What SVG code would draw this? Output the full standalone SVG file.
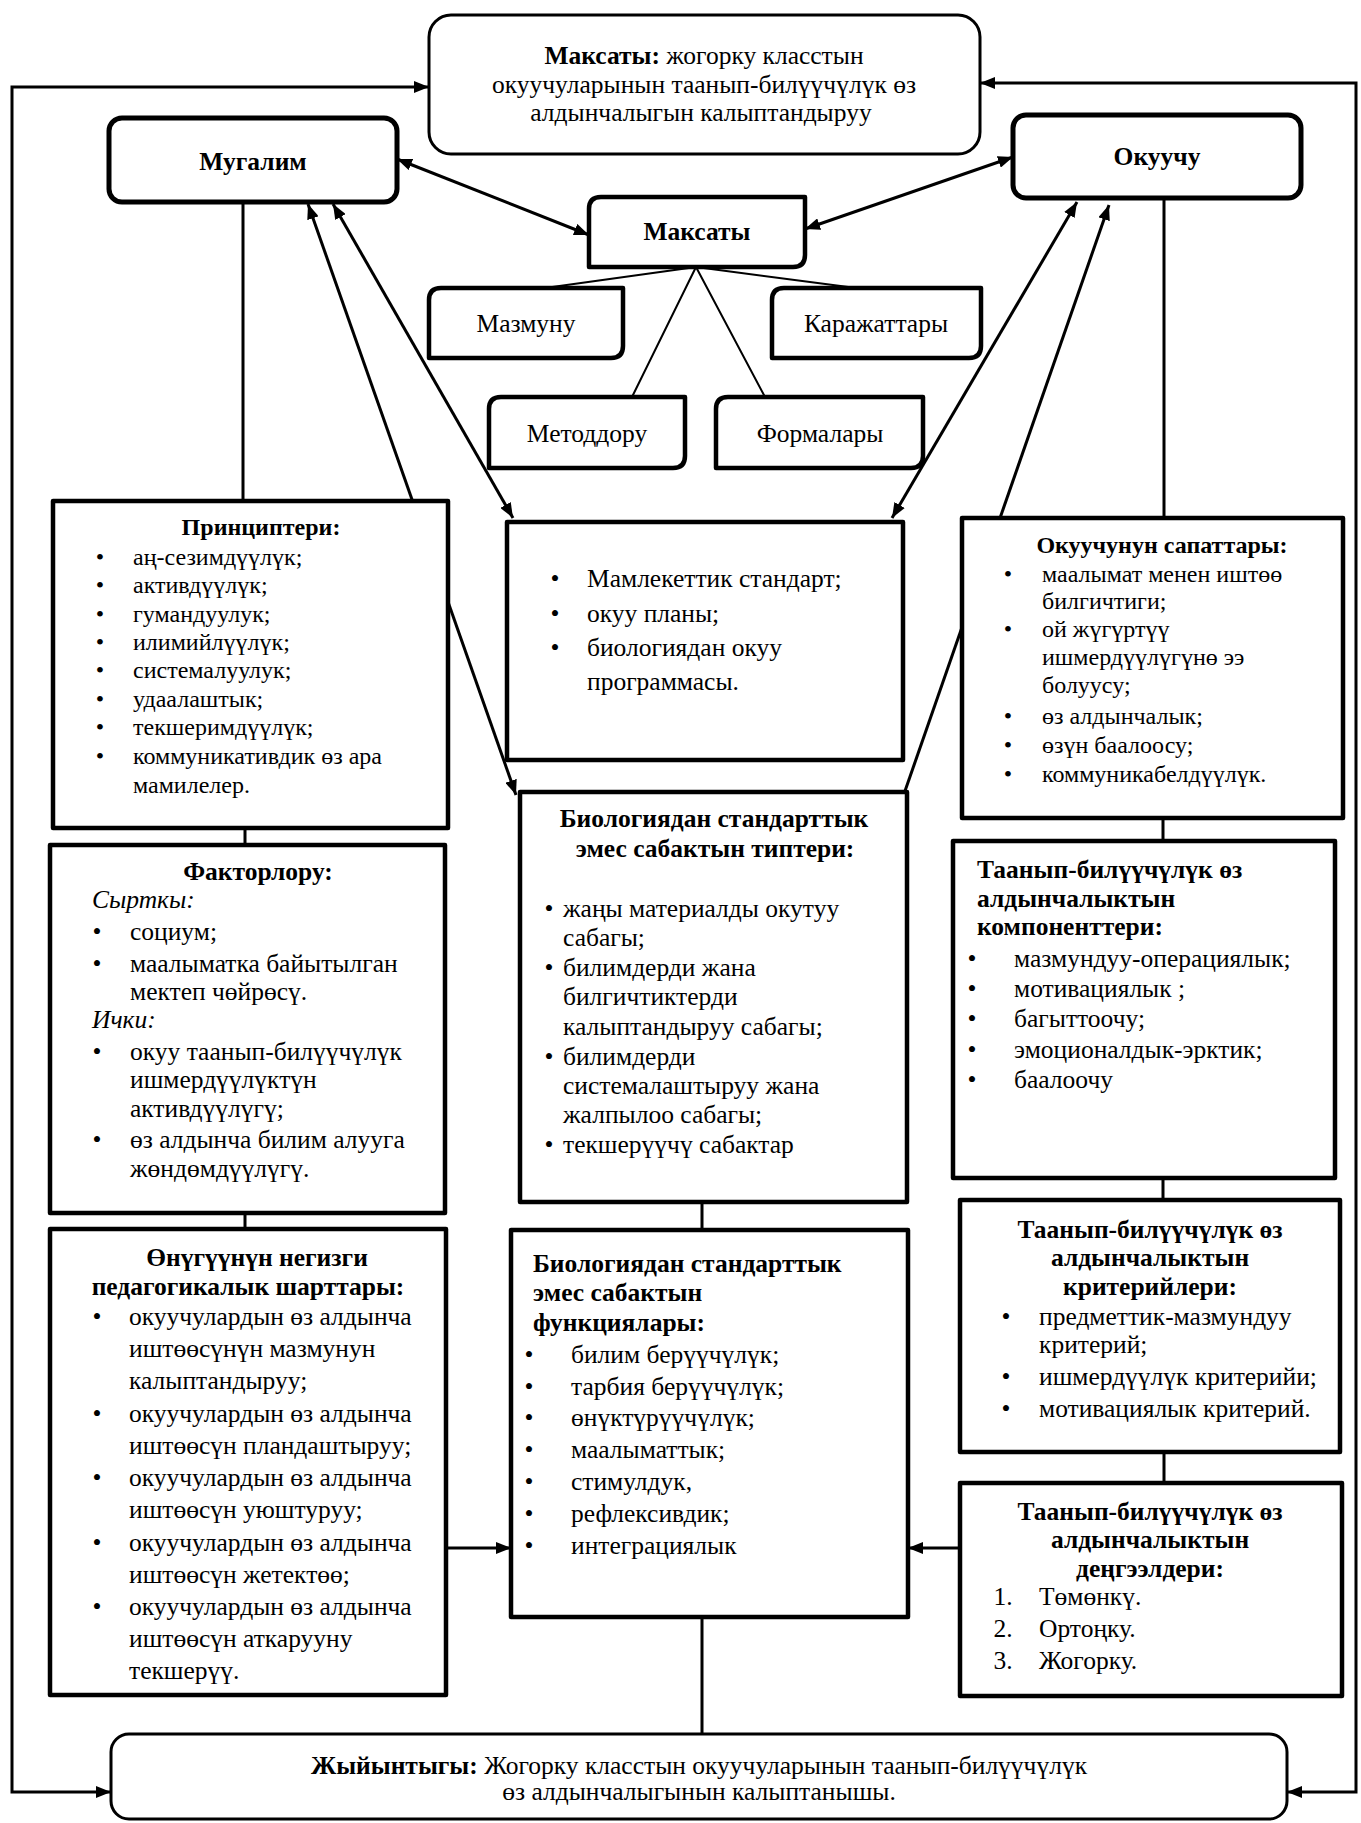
<svg xmlns="http://www.w3.org/2000/svg" width="1361" height="1823" viewBox="0 0 1361 1823">
<defs>
<style>
.bx{fill:#fff;stroke:#000;stroke-width:4.5;stroke-linejoin:round}
.rb{fill:#fff;stroke:#000;stroke-width:3}
.hb{fill:#fff;stroke:#000;stroke-width:5}
.ln{fill:none;stroke:#000;stroke-width:3}
.th{fill:none;stroke:#000;stroke-width:2}
.ar{marker-end:url(#ah)}
.ar2{marker-start:url(#ah);marker-end:url(#ah)}
.ars{marker-start:url(#ah)}
text{font-family:"Liberation Serif","Times New Roman",serif;font-size:25.5px;fill:#000}
.s text{font-size:24px}
.b{font-weight:bold}
.c{text-anchor:middle}
.i{font-style:italic}
</style>
<marker id="ah" viewBox="0 0 10 8" refX="10" refY="4" markerWidth="5" markerHeight="4" orient="auto-start-reverse">
<path d="M0,0 L10,4 L0,8 z" fill="#000"/>
</marker>
</defs>
<rect width="1361" height="1823" fill="#fff"/>
<g id="connectors">
<path class="ln ar2" d="M429,87 L12,87 L12,1792 L111,1792"/>
<path class="ln ar2" d="M980,83 L1356,83 L1356,1792 L1287,1792"/>
<path class="ln ar2" d="M397,159 L589,235"/>
<path class="ln ar2" d="M805,229 L1013,157"/>
<path class="ln ar2" d="M308,204 L516,795"/>
<path class="ln ar2" d="M333,204 L513,518"/>
<path class="ln ar2" d="M1077,202 L892,518"/>
<path class="ln ars" d="M1109,205 L905,791"/>
<path class="ln" d="M243,202 V501 M1164,198 V518 M245,828 V845 M245,1213 V1229 M1163,818 V841 M1163,1178 V1200 M1164,1452 V1483 M702,1202 V1230 M702,1617 V1734"/>
<path class="th" d="M696,267 L545,288 M696,267 L632,397 M696,267 L856,288 M696,267 L765,397"/>
<path class="ln ar" d="M446,1548 L511,1548"/>
<path class="ln ar" d="M960,1548 L908,1548"/>
</g>
<g id="goal">
<rect class="rb" x="429" y="15" width="551" height="139" rx="22"/>
<text class="c" x="704" y="64"><tspan class="b">Максаты:</tspan> жогорку класстын</text>
<text class="c" x="704" y="93">окуучуларынын таанып-билүүчүлүк өз</text>
<text class="c" x="701" y="121">алдынчалыгын калыптандыруу</text>
</g>
<g id="mugalim">
<rect class="hb" x="109" y="118" width="288" height="84" rx="13"/>
<text class="c b" x="253" y="170">Мугалим</text>
</g>
<g id="okuuchu">
<rect class="hb" x="1013" y="115" width="288" height="83" rx="13"/>
<text class="c b" x="1157" y="165">Окуучу</text>
</g>
<g id="maksaty">
<path class="bx" d="M601,197 H805 V255 Q805,267 793,267 H589 V209 Q589,197 601,197 Z"/>
<text class="c b" x="697" y="240">Максаты</text>
</g>
<g id="mazmunu">
<path class="bx" d="M441,288 H623 V346 Q623,358 611,358 H429 V300 Q429,288 441,288 Z"/>
<text class="c" x="526" y="332">Мазмуну</text>
</g>
<g id="karajattary">
<path class="bx" d="M784,288 H981 V346 Q981,358 969,358 H772 V300 Q772,288 784,288 Z"/>
<text class="c" x="876" y="332">Каражаттары</text>
</g>
<g id="metoddoru">
<path class="bx" d="M501,397 H685 V456 Q685,468 673,468 H489 V409 Q489,397 501,397 Z"/>
<text class="c" x="587" y="442">Методдору</text>
</g>
<g id="formalary">
<path class="bx" d="M728,397 H923 V456 Q923,468 911,468 H716 V409 Q716,397 728,397 Z"/>
<text class="c" x="820" y="442">Формалары</text>
</g>
<g id="principles" class="s">
<rect class="bx" x="53" y="501" width="395" height="327"/>
<text class="c b" x="261" y="535">Принциптери:</text>
<text class="c" x="100" y="565">•</text><text x="133" y="565">аң-сезимдүүлүк;</text>
<text class="c" x="100" y="593">•</text><text x="133" y="593">активдүүлүк;</text>
<text class="c" x="100" y="622">•</text><text x="133" y="622">гумандуулук;</text>
<text class="c" x="100" y="650">•</text><text x="133" y="650">илимийлүүлүк;</text>
<text class="c" x="100" y="678">•</text><text x="133" y="678">системалуулук;</text>
<text class="c" x="100" y="707">•</text><text x="133" y="707">удаалаштык;</text>
<text class="c" x="100" y="735">•</text><text x="133" y="735">текшеримдүүлүк;</text>
<text class="c" x="100" y="764">•</text><text x="133" y="764">коммуникативдик өз ара</text>
<text x="133" y="793">мамилелер.</text>
</g>
<g id="standards">
<rect class="bx" x="507" y="522" width="396" height="238"/>
<text class="c" x="555" y="587">•</text><text x="587" y="587">Мамлекеттик стандарт;</text>
<text class="c" x="555" y="622">•</text><text x="587" y="622">окуу планы;</text>
<text class="c" x="555" y="656">•</text><text x="587" y="656">биологиядан окуу</text>
<text x="587" y="690">программасы.</text>
</g>
<g id="sapattary" class="s">
<rect class="bx" x="962" y="518" width="381" height="300"/>
<text class="c b" x="1162" y="553">Окуучунун сапаттары:</text>
<text class="c" x="1008" y="582">•</text><text x="1042" y="582">маалымат менен иштөө</text>
<text x="1042" y="609">билгичтиги;</text>
<text class="c" x="1008" y="637">•</text><text x="1042" y="637">ой жүгүртүү</text>
<text x="1042" y="665">ишмердүүлүгүнө ээ</text>
<text x="1042" y="693">болуусу;</text>
<text class="c" x="1008" y="724">•</text><text x="1042" y="724">өз алдынчалык;</text>
<text class="c" x="1008" y="753">•</text><text x="1042" y="753">өзүн баалоосу;</text>
<text class="c" x="1008" y="782">•</text><text x="1042" y="782">коммуникабелдүүлүк.</text>
</g>
<g id="factors">
<rect class="bx" x="50" y="845" width="395" height="368"/>
<text class="c b" x="258" y="880">Факторлору:</text>
<text class="i" x="92" y="908">Сырткы:</text>
<text class="c" x="97" y="940">•</text><text x="130" y="940">социум;</text>
<text class="c" x="97" y="972">•</text><text x="130" y="972">маалыматка байытылган</text>
<text x="130" y="1000">мектеп чөйрөсү.</text>
<text class="i" x="92" y="1028">Ички:</text>
<text class="c" x="97" y="1060">•</text><text x="130" y="1060">окуу таанып-билүүчүлүк</text>
<text x="130" y="1088">ишмердүүлүктүн</text>
<text x="130" y="1117">активдүүлүгү;</text>
<text class="c" x="97" y="1148">•</text><text x="130" y="1148">өз алдынча билим алууга</text>
<text x="130" y="1177">жөндөмдүүлүгү.</text>
</g>
<g id="types">
<rect class="bx" x="520" y="792" width="387" height="410"/>
<text class="c b" x="714" y="827">Биологиядан стандарттык</text>
<text class="c b" x="715" y="857">эмес сабактын типтери:</text>
<text class="c" x="549" y="917">•</text><text x="563" y="917">жаңы материалды окутуу</text>
<text x="563" y="946">сабагы;</text>
<text class="c" x="549" y="976">•</text><text x="563" y="976">билимдерди жана</text>
<text x="563" y="1005">билгичтиктерди</text>
<text x="563" y="1035">калыптандыруу сабагы;</text>
<text class="c" x="549" y="1065">•</text><text x="563" y="1065">билимдерди</text>
<text x="563" y="1094">системалаштыруу жана</text>
<text x="563" y="1123">жалпылоо сабагы;</text>
<text class="c" x="549" y="1153">•</text><text x="563" y="1153">текшерүүчү сабактар</text>
</g>
<g id="components">
<rect class="bx" x="953" y="841" width="382" height="337"/>
<text class="b" x="977" y="878">Таанып-билүүчүлүк өз</text>
<text class="b" x="977" y="907">алдынчалыктын</text>
<text class="b" x="977" y="935">компоненттери:</text>
<text class="c" x="972" y="967">•</text><text x="1014" y="967">мазмундуу-операциялык;</text>
<text class="c" x="972" y="997">•</text><text x="1014" y="997">мотивациялык ;</text>
<text class="c" x="972" y="1027">•</text><text x="1014" y="1027">багыттоочу;</text>
<text class="c" x="972" y="1058">•</text><text x="1014" y="1058">эмоционалдык-эрктик;</text>
<text class="c" x="972" y="1088">•</text><text x="1014" y="1088">баалоочу</text>
</g>
<g id="conditions">
<rect class="bx" x="50" y="1229" width="396" height="466"/>
<text class="c b" x="257" y="1266">Өнүгүүнүн негизги</text>
<text class="c b" x="248" y="1295">педагогикалык шарттары:</text>
<text class="c" x="97" y="1325">•</text><text x="129" y="1325">окуучулардын өз алдынча</text>
<text x="129" y="1357">иштөөсүнүн мазмунун</text>
<text x="129" y="1389">калыптандыруу;</text>
<text class="c" x="97" y="1422">•</text><text x="129" y="1422">окуучулардын өз алдынча</text>
<text x="129" y="1454">иштөөсүн пландаштыруу;</text>
<text class="c" x="97" y="1486">•</text><text x="129" y="1486">окуучулардын өз алдынча</text>
<text x="129" y="1518">иштөөсүн уюштуруу;</text>
<text class="c" x="97" y="1551">•</text><text x="129" y="1551">окуучулардын өз алдынча</text>
<text x="129" y="1583">иштөөсүн жетектөө;</text>
<text class="c" x="97" y="1615">•</text><text x="129" y="1615">окуучулардын өз алдынча</text>
<text x="129" y="1647">иштөөсүн аткарууну</text>
<text x="129" y="1679">текшерүү.</text>
</g>
<g id="functions">
<rect class="bx" x="511" y="1230" width="397" height="387"/>
<text class="b" x="533" y="1272">Биологиядан стандарттык</text>
<text class="b" x="533" y="1301">эмес сабактын</text>
<text class="b" x="533" y="1331">функциялары:</text>
<text class="c" x="529" y="1363">•</text><text x="571" y="1363">билим берүүчүлүк;</text>
<text class="c" x="529" y="1395">•</text><text x="571" y="1395">тарбия берүүчүлүк;</text>
<text class="c" x="529" y="1426">•</text><text x="571" y="1426">өнүктүрүүчүлүк;</text>
<text class="c" x="529" y="1458">•</text><text x="571" y="1458">маалыматтык;</text>
<text class="c" x="529" y="1490">•</text><text x="571" y="1490">стимулдук,</text>
<text class="c" x="529" y="1522">•</text><text x="571" y="1522">рефлексивдик;</text>
<text class="c" x="529" y="1554">•</text><text x="571" y="1554">интеграциялык</text>
</g>
<g id="criteria">
<rect class="bx" x="960" y="1200" width="380" height="252"/>
<text class="c b" x="1150" y="1238">Таанып-билүүчүлүк өз</text>
<text class="c b" x="1150" y="1266">алдынчалыктын</text>
<text class="c b" x="1150" y="1295">критерийлери:</text>
<text class="c" x="1006" y="1325">•</text><text x="1039" y="1325">предметтик-мазмундуу</text>
<text x="1039" y="1353">критерий;</text>
<text class="c" x="1006" y="1385">•</text><text x="1039" y="1385">ишмердүүлүк критерийи;</text>
<text class="c" x="1006" y="1417">•</text><text x="1039" y="1417">мотивациялык критерий.</text>
</g>
<g id="levels">
<rect class="bx" x="960" y="1483" width="382" height="213"/>
<text class="c b" x="1150" y="1520">Таанып-билүүчүлүк өз</text>
<text class="c b" x="1150" y="1548">алдынчалыктын</text>
<text class="c b" x="1150" y="1577">деңгээлдери:</text>
<text class="c" x="1003" y="1605">1.</text><text x="1039" y="1605">Төмөнкү.</text>
<text class="c" x="1003" y="1637">2.</text><text x="1039" y="1637">Ортоңку.</text>
<text class="c" x="1003" y="1669">3.</text><text x="1039" y="1669">Жогорку.</text>
</g>
<g id="result">
<rect class="rb" x="111" y="1734" width="1176" height="85" rx="18"/>
<text class="c" x="699" y="1774"><tspan class="b">Жыйынтыгы:</tspan> Жогорку класстын окуучуларынын таанып-билүүчүлүк</text>
<text class="c" x="699" y="1800">өз алдынчалыгынын калыптанышы.</text>
</g>
</svg>
